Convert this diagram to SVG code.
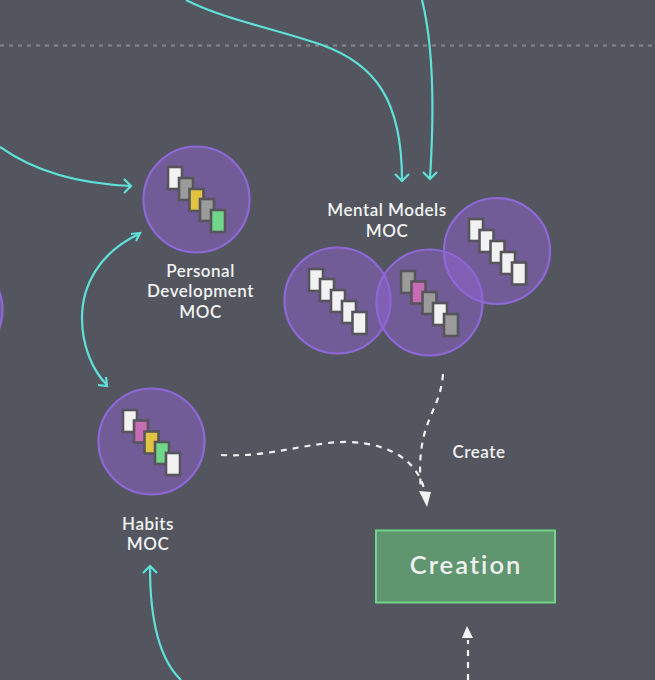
<svg xmlns="http://www.w3.org/2000/svg" width="655" height="680" viewBox="0 0 655 680">
<style>
.bg{fill:#53565f}
.moc{fill:#8f62d1;fill-opacity:.5;stroke:#8f68d8;stroke-width:2.2}
.d{stroke:#55555b;stroke-width:2.6}
.w{fill:#f2f2f2}.g{fill:#9b9b9b}.y{fill:#e3c344}.n{fill:#72d68a}.p{fill:#c76cb4}
.t{font-family:"Lato","Open Sans",sans-serif;font-size:17px;font-weight:600;fill:#f2f2f2;text-anchor:middle;letter-spacing:.5px}
.c{fill:none;stroke:#5fe0d8;stroke-width:2.2}
.a{fill:none;stroke:#f2f2f2;stroke-width:2.2;stroke-dasharray:6 6}
.h{fill:none;stroke:#5fe0d8;stroke-width:2.2}
</style>
<rect class="bg" width="655" height="680"/>
<line x1="0" y1="45.500" x2="655" y2="45.500" stroke="#85878d" stroke-width="2" stroke-dasharray="4 5"/>
<g id="connectors">
<path class="c" d="M186 0C225 20 280 30 322 45C375 64 402 100 402 180"/>
<path class="h" d="M395 174L402 181L409 174"/>
<path class="c" d="M422 0C432 40 435 100 430 178"/>
<path class="h" d="M423 172L430 179L437 172"/>
<path class="c" d="M0 147C35 172 80 184 131 186"/>
<path class="h" d="M124 179L131 186L124 193"/>
<path class="c" d="M139 234C100 252 82 285 82 318C82 345 92 370 107 385"/>
<path class="h" d="M131 234L140 233L136 241"/>
<path class="h" d="M98 385L107 386L106 377"/>
<path class="c" d="M181 680C160 660 150 620 150 567"/>
<path class="h" d="M143 573L150 566L157 573"/>
<path class="a" d="M221 455C270 458 310 441 350 442C395 444 420 465 425 493"/>
<path class="a" d="M443 374C440 415 415 420 421 490"/>
<path d="M419 491L431 492L427 507Z" fill="#f2f2f2"/>
<path class="a" d="M468 680L468 640"/>
<path d="M467 626L473 638L462 638Z" fill="#f2f2f2"/>
</g>
<g id="edge-moc"><circle class="moc" cx="-50" cy="310" r="52.500"/></g>
<g id="personal-development">
<circle class="moc" cx="196.500" cy="199.500" r="53"/>
<rect class="d w" x="168" y="167" width="14" height="22"/>
<rect class="d g" x="179" y="178" width="14" height="22"/>
<rect class="d y" x="189.500" y="189" width="14" height="22"/>
<rect class="d g" x="200" y="199" width="14" height="22"/>
<rect class="d n" x="211" y="210" width="14" height="22"/>
<text class="t" x="200.500" y="276.500">Personal</text>
<text class="t" x="200.500" y="296.500">Development</text>
<text class="t" x="200.500" y="317.500">MOC</text>
</g>
<g id="mental-models">
<text class="t" x="387" y="215.500">Mental Models</text>
<text class="t" x="387" y="236.500">MOC</text>
<g id="mm-1">
<circle class="moc" cx="337.500" cy="300.500" r="53"/>
<rect class="d w" x="309" y="269" width="14" height="22"/>
<rect class="d w" x="320" y="279" width="14" height="22"/>
<rect class="d w" x="331" y="290" width="14" height="22"/>
<rect class="d w" x="342" y="301" width="14" height="22"/>
<rect class="d w" x="352.500" y="312" width="14" height="22"/>
</g>
<g id="mm-2">
<circle class="moc" cx="429.500" cy="302.500" r="53"/>
<rect class="d g" x="401" y="271" width="14" height="22"/>
<rect class="d p" x="411.500" y="281.500" width="14" height="22"/>
<rect class="d g" x="422.500" y="292" width="14" height="22"/>
<rect class="d w" x="433" y="303" width="14" height="22"/>
<rect class="d g" x="444" y="314" width="14" height="22"/>
</g>
<g id="mm-3">
<circle class="moc" cx="497" cy="251" r="53"/>
<rect class="d w" x="469" y="219" width="14" height="22"/>
<rect class="d w" x="479.500" y="230" width="14" height="22"/>
<rect class="d w" x="490.500" y="241" width="14" height="22"/>
<rect class="d w" x="501" y="252" width="14" height="22"/>
<rect class="d w" x="512" y="262.500" width="14" height="22"/>
</g>
</g>
<g id="habits">
<circle class="moc" cx="151.500" cy="441.500" r="53"/>
<rect class="d w" x="123" y="410" width="14" height="22"/>
<rect class="d p" x="134" y="420.500" width="14" height="22"/>
<rect class="d y" x="144.500" y="431.500" width="14" height="22"/>
<rect class="d n" x="155" y="442" width="14" height="22"/>
<rect class="d w" x="166" y="453" width="14" height="22"/>
<text class="t" x="148" y="529.500">Habits</text>
<text class="t" x="148" y="549.500">MOC</text>
</g>
<g id="create"><text class="t" x="479" y="457.500">Create</text></g>
<g id="creation">
<rect x="376" y="530.500" width="179" height="72" fill="#5f956f" stroke="#71d487" stroke-width="2"/>
<text x="466" y="574" font-family="Lato,'Open Sans',sans-serif" font-size="25.500" font-weight="600" fill="#f0f0f0" text-anchor="middle" letter-spacing="2">Creation</text>
</g>
</svg>
